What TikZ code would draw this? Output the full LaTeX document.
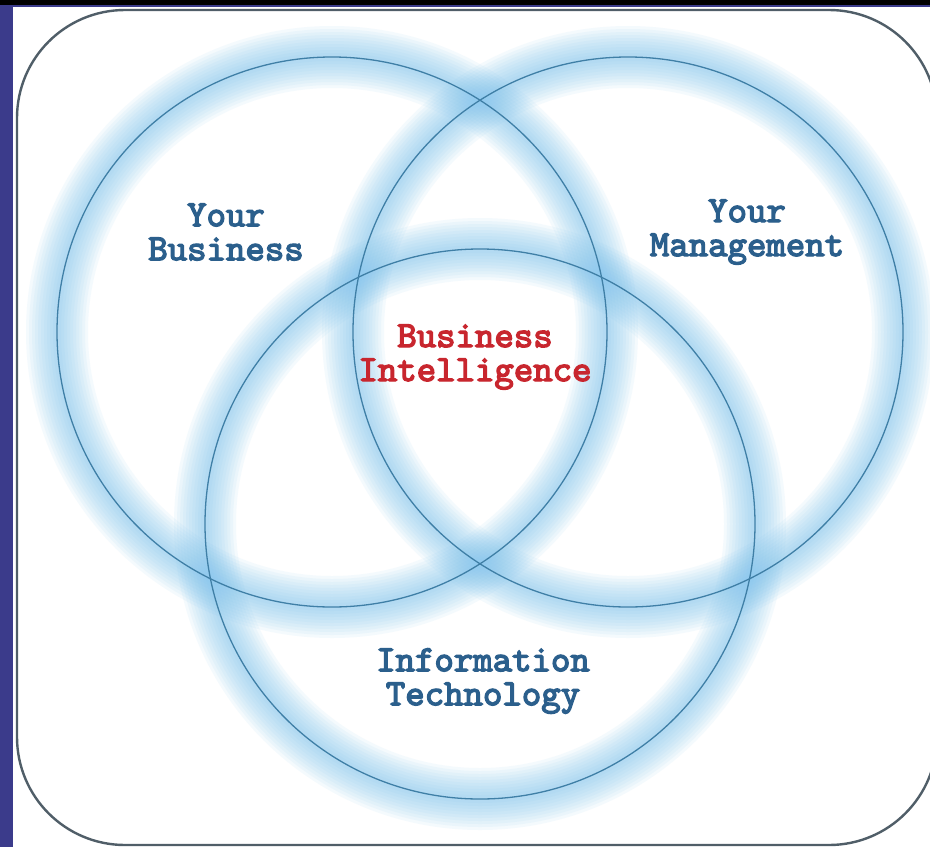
\documentclass[tikz,border=0pt]{standalone}
\usepackage{fontspec}
\newfontfamily\labelfont[FakeBold=3.6]{lmmono10-regular.otf}

\definecolor{navy}{HTML}{3B3B8B}
\definecolor{glowblue}{HTML}{7EC3EE}
\definecolor{ringblue}{HTML}{3F7FA6}
\definecolor{txtblue}{HTML}{2B5F8C}
\definecolor{txtred}{HTML}{C8262E}
\definecolor{framegray}{HTML}{505E68}

\tikzset{
  lbl/.style={font=\labelfont\fontsize{37}{34}\selectfont,
    text=txtblue, align=center, inner sep=0pt},
  ringline/.style={draw=ringblue, line width=1.3pt},
}

\begin{document}
\begin{tikzpicture}[x=1pt,y=-1pt]
\useasboundingbox (0,0) rectangle (930,847);
\fill[navy] (0,0) rectangle (930,847);
\fill[black] (0,0) rectangle (930,5);
\fill[white] (13,7) rectangle (930,847);
\draw[framegray, line width=2.4pt, rounded corners=108pt] (17,10) rectangle (937,845);

% centres of the three rings
\coordinate (bus) at (332,332);
\coordinate (man) at (628,332);
\coordinate (tec) at (480,524);

% soft glow
\foreach \c in {bus,man,tec}
  \foreach \w in {62,56,...,8}
    \draw[glowblue, line width=\w pt, opacity=0.08] (\c) circle (275pt);

\foreach \c in {bus,man,tec}
  \draw[ringline] (\c) circle (275pt);

\node[lbl] (yb) at (226,232) {Your\\Business};
\node[lbl] (ym) at (747,232) {Your\\Management};
\node[lbl, text=txtred] (bi) at (475,357) {Business\\Intelligence};
\node[lbl] (it) at (483,681) {Information\\Technology};
\end{tikzpicture}
\end{document}
